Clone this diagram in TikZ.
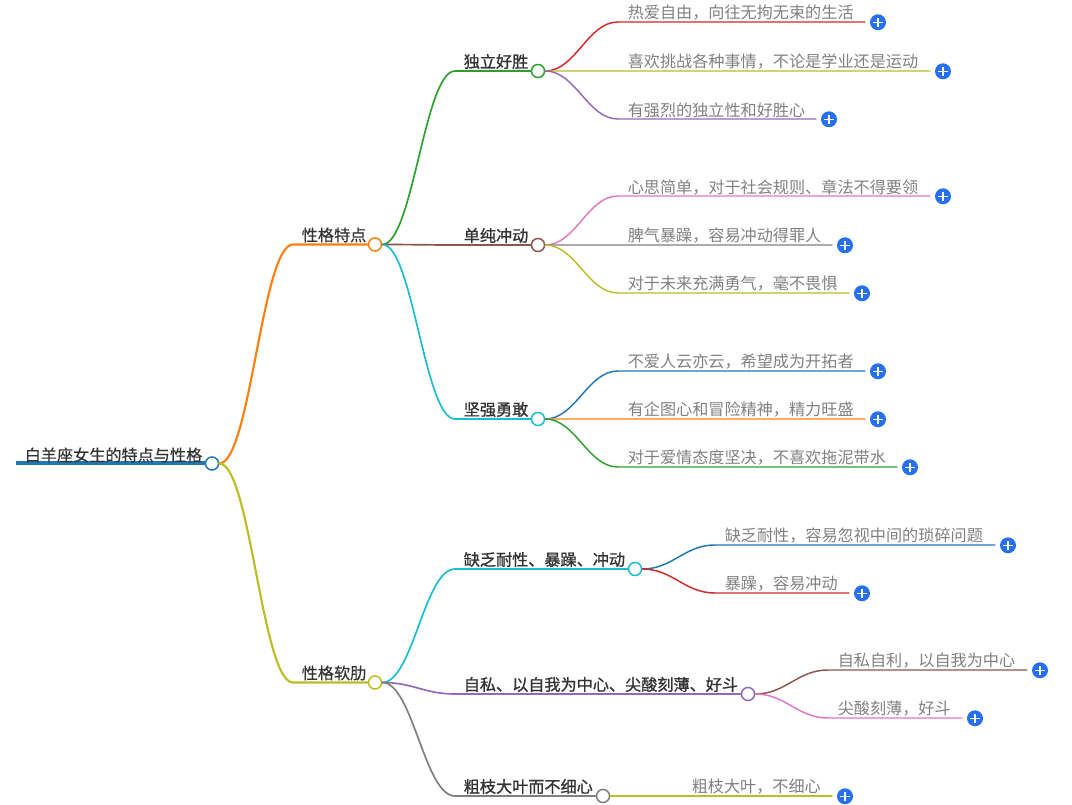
\documentclass[tikz,border=0pt]{standalone}
\usepackage{fontspec}
\setmainfont{Noto Sans CJK SC}
\newfontfamily\semifont[FakeBold=0.4]{Noto Sans CJK SC}
\newfontfamily\heavyfont[FakeBold=1.1]{Noto Sans CJK SC}
\usetikzlibrary{calc}
\definecolor{cblue}{HTML}{1F77B4}
\definecolor{corange}{HTML}{FF7F0E}
\definecolor{cgreen}{HTML}{2CA02C}
\definecolor{cred}{HTML}{D62728}
\definecolor{cpurple}{HTML}{9467BD}
\definecolor{cbrown}{HTML}{8C564B}
\definecolor{cpink}{HTML}{E377C2}
\definecolor{cgray}{HTML}{7F7F7F}
\definecolor{colive}{HTML}{BCBD22}
\definecolor{ccyan}{HTML}{17BECF}
\definecolor{plusblue}{HTML}{2670F0}
\tikzset{
  px/.style={x=0.75pt,y=-0.75pt},
  knob/.style={circle,draw=#1,fill=white,line width=1.1pt,minimum size=9.8pt,inner sep=0pt},
  wire/.style={draw=#1,line width=1.1pt,line cap=round},
  rootlabel/.style={anchor=west,inner sep=0pt,text=black!80,font=\fontsize{12.1}{12.1}\selectfont\semifont},
  midlabel/.style={anchor=west,inner sep=0pt,text=black!80,font=\fontsize{12.1}{12.1}\selectfont\semifont},
  boldlabel/.style={anchor=west,inner sep=0pt,text=black!80,font=\fontsize{12.1}{12.1}\selectfont\heavyfont},
  leaflabel/.style={anchor=west,inner sep=0pt,text=black!50,font=\fontsize{12.1}{12.1}\selectfont},
  plusbtn/.style={circle,fill=plusblue,minimum size=12pt,inner sep=0pt,
    path picture={\draw[white,line width=0.9pt]
      ([xshift=-3.4pt]path picture bounding box.center) -- ([xshift=3.4pt]path picture bounding box.center)
      ([yshift=-3.4pt]path picture bounding box.center) -- ([yshift=3.4pt]path picture bounding box.center);}},
}
% #1 parent, #2 knot, #3 end point, #4 colour, #5 width
\newcommand\branchline[5]{%
  \draw[wire=#4,line width=#5] (#1.east)
    .. controls ($(#1.east)!0.42!(#2 |- #1.east)$) and ($(#2)!0.42!(#1.east |- #2)$) .. (#2) -- (#3);}
% #1 name, #2 parent, #3 colour, #4 knot x, #5 y, #6 plus x, #7 text x, #8 text
\newcommand\leafitem[8]{%
  \coordinate (#1k) at (#4,#5);
  \node[plusbtn] (#1p) at (#6,#5.3) {};
  \coordinate (#1e) at ($(#6,#5)+(-13,0)$);
  \branchline{#2}{#1k}{#1e}{#3}{1.1pt}
  \node[leaflabel] (#1t) at (#7,#5-9) {#8};}
% #1 name, #2 parent, #3 colour, #4 knot x, #5 y, #6 knob x, #7 text x, #8 text
\newcommand\miditem[8]{%
  \coordinate (#1k) at (#4,#5);
  \node[knob=#3] (#1) at (#6,#5) {};
  \branchline{#2}{#1k}{#1.west}{#3}{1.25pt}
  \node[boldlabel] (#1t) at (#7,#5-9.5) {#8};}
\begin{document}
\begin{tikzpicture}[px]
\useasboundingbox (0,0) rectangle (1072,805);
% root
\node[knob=cblue] (root) at (212,463.5) {};
\coordinate (rootstart) at (16,463.5);
\draw[wire=cblue,line width=3pt,line cap=butt] (rootstart) -- (root.west);
\node[rootlabel] (roott) at (24.5,455) {白羊座女生的特点与性格};
% first level
\coordinate (akn) at (293,244.5);
\node[knob=corange] (a) at (375,244.5) {};
\branchline{root}{akn}{a.west}{corange}{1.6pt}
\node[midlabel] (at) at (301.5,235) {性格特点};
\coordinate (bkn) at (293,682.5);
\node[knob=colive] (b) at (375,682.5) {};
\branchline{root}{bkn}{b.west}{colive}{1.6pt}
\node[midlabel] (bt) at (301.5,673) {性格软肋};
% second level
\miditem{a1}{a}{cgreen}{455}{71}{538}{463.5}{独立好胜}
\miditem{a2}{a}{cbrown}{455}{245}{538}{463.5}{单纯冲动}
\miditem{a3}{a}{ccyan}{455}{419}{538}{463.5}{坚强勇敢}
\miditem{b1}{b}{ccyan}{455}{569}{635}{463.5}{缺乏耐性、暴躁、冲动}
\miditem{b2}{b}{cpurple}{455}{694}{748}{463.5}{自私、以自我为中心、尖酸刻薄、好斗}
\miditem{b3}{b}{cgray}{455}{796}{603}{463.5}{粗枝大叶而不细心}
% leaves
\leafitem{l1}{a1}{cred}{618}{22}{878}{627.5}{热爱自由，向往无拘无束的生活}
\leafitem{l2}{a1}{colive}{618}{71}{943}{627.5}{喜欢挑战各种事情，不论是学业还是运动}
\leafitem{l3}{a1}{cpurple}{618}{119}{829}{627.5}{有强烈的独立性和好胜心}
\leafitem{l4}{a2}{cpink}{618}{196}{943}{627.5}{心思简单，对于社会规则、章法不得要领}
\leafitem{l5}{a2}{cgray}{618}{245}{845}{627.5}{脾气暴躁，容易冲动得罪人}
\leafitem{l6}{a2}{colive}{618}{293}{862}{627.5}{对于未来充满勇气，毫不畏惧}
\leafitem{l7}{a3}{cblue}{618}{371}{878}{627.5}{不爱人云亦云，希望成为开拓者}
\leafitem{l8}{a3}{corange}{618}{419}{878}{627.5}{有企图心和冒险精神，精力旺盛}
\leafitem{l9}{a3}{cgreen}{618}{467}{910}{627.5}{对于爱情态度坚决，不喜欢拖泥带水}
\leafitem{l10}{b1}{cblue}{715}{545}{1008}{724.5}{缺乏耐性，容易忽视中间的琐碎问题}
\leafitem{l11}{b1}{cred}{715}{593}{862}{724.5}{暴躁，容易冲动}
\leafitem{l12}{b2}{cbrown}{828}{670}{1040}{837.5}{自私自利，以自我为中心}
\leafitem{l13}{b2}{cpink}{828}{718}{975}{837.5}{尖酸刻薄，好斗}
\leafitem{l14}{b3}{colive}{680}{796}{845}{691.5}{粗枝大叶，不细心}
\end{tikzpicture}
\end{document}
